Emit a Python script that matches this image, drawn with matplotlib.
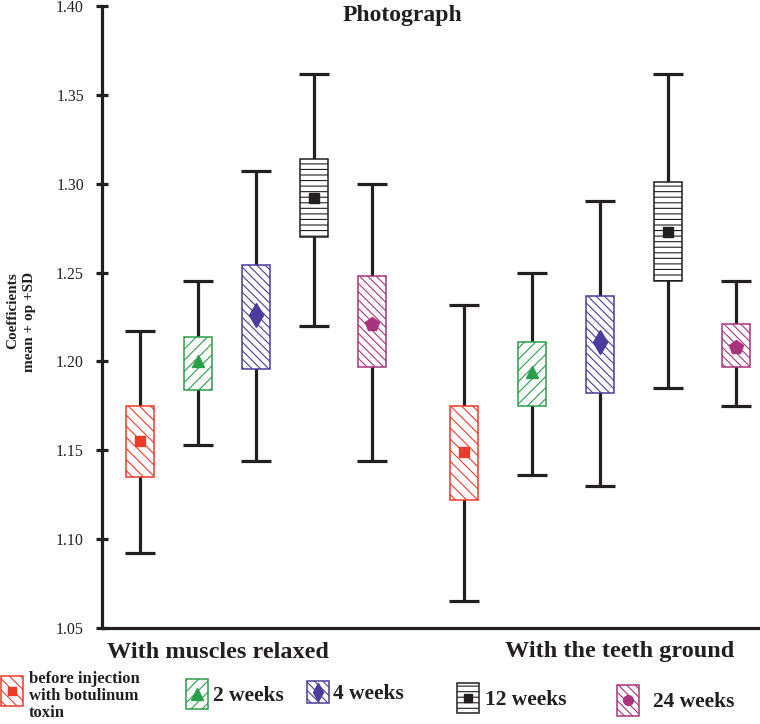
import numpy as np
import matplotlib
matplotlib.use('Agg')
import matplotlib.pyplot as plt
from matplotlib.patches import Rectangle

plt.rcParams['font.family'] = ['Liberation Serif', 'DejaVu Serif']
plt.rcParams['hatch.linewidth'] = 0.8

series = ['before injection\nwith botulinum\ntoxin', '2 weeks', '4 weeks', '12 weeks', '24 weeks']
groups = ['With muscles relaxed', 'With the teeth ground']

# per group: one value per series
mean_relaxed = [1.155, 1.200, 1.226, 1.292, 1.221]
box_lo_relaxed = [1.135, 1.184, 1.196, 1.270, 1.197]
box_hi_relaxed = [1.175, 1.214, 1.254, 1.314, 1.248]
wh_lo_relaxed = [1.092, 1.153, 1.144, 1.220, 1.144]
wh_hi_relaxed = [1.217, 1.245, 1.307, 1.362, 1.300]

mean_ground = [1.149, 1.194, 1.211, 1.273, 1.208]
box_lo_ground = [1.122, 1.175, 1.182, 1.245, 1.197]
box_hi_ground = [1.175, 1.211, 1.237, 1.301, 1.221]
wh_lo_ground = [1.065, 1.136, 1.130, 1.185, 1.175]
wh_hi_ground = [1.232, 1.250, 1.290, 1.362, 1.245]

edge_colors = ['#ee3a2a', '#2b9e4a', '#4a3d9c', '#231f20', '#a8347f']
hatches = ['\\\\\\', '///', '\\\\\\\\', '---', '\\\\\\\\']
markers = ['s', '^', 'd', 's', 'p']
msizes = [7, 9, 12, 7, 10]

# layout (x axis in pixel-like units from the y spine)
group_start = [38, 362]
group_step = [58, 68]
box_w = 28

fig = plt.figure(figsize=(7.6, 7.24), dpi=100)
ax = fig.add_axes([102 / 760, 96 / 724, 658 / 760, 622 / 724])

data = [
    (mean_relaxed, box_lo_relaxed, box_hi_relaxed, wh_lo_relaxed, wh_hi_relaxed),
    (mean_ground, box_lo_ground, box_hi_ground, wh_lo_ground, wh_hi_ground),
]

for g, (mean, blo, bhi, wlo, whi) in enumerate(data):
    pos = group_start[g] + group_step[g] * np.arange(len(series))
    mean = np.array(mean)
    ax.errorbar(pos, mean, yerr=[mean - np.array(wlo), np.array(whi) - mean],
                fmt='none', ecolor='#231f20', elinewidth=2.3, capsize=11,
                capthick=2.3, zorder=1)
    for i in range(len(series)):
        ax.bar(pos[i], bhi[i] - blo[i], bottom=blo[i], width=box_w,
               facecolor='white', edgecolor=edge_colors[i], hatch=hatches[i],
               linewidth=1.1, zorder=2)
        ax.plot(pos[i], mean[i], marker=markers[i], ms=msizes[i],
                color=edge_colors[i], mec=edge_colors[i], zorder=3)

ax.set_xlim(0, 658)
ax.set_ylim(1.05, 1.40)
ax.set_yticks(np.arange(1.05, 1.401, 0.05))
ax.set_yticklabels([f'{v:.2f}' for v in np.arange(1.05, 1.401, 0.05)])
ax.set_xticks([])
ax.tick_params(axis='y', direction='inout', length=8, width=2.3,
               labelsize=11.5, pad=9, colors='#231f20')
for s in ['top', 'right']:
    ax.spines[s].set_visible(False)
for s in ['left', 'bottom']:
    ax.spines[s].set_linewidth(2.3)
    ax.spines[s].set_color('#231f20')
ax.spines['bottom'].set_capstyle('butt')

fig.text(402 / 760, 1 - 16 / 724, 'Photograph', ha='center', va='center',
         fontsize=17, fontweight='bold', color='#231f20')
fig.text(21 / 760, 1 - 322 / 724, 'Coefficients\nmean + op +SD', rotation=90,
         ha='center', va='center', multialignment='right', fontsize=11,
         fontweight='bold', color='#231f20', linespacing=1.35)
fig.text(218 / 760, 1 - 652 / 724, groups[0], ha='center', va='center',
         fontsize=17.5, fontweight='bold', color='#231f20')
fig.text(620 / 760, 1 - 652 / 724, groups[1], ha='center', va='center',
         fontsize=17.5, fontweight='bold', color='#231f20')

# custom legend along the bottom
lax = fig.add_axes([0, 0, 1, 1], zorder=5)
lax.set_xlim(0, 760)
lax.set_ylim(724, 0)
lax.axis('off')
leg_x = [1, 186, 307, 457, 617]
leg_y = [691, 694, 692, 698, 700]
leg_h = [30, 30, 22, 30, 31]
leg_gap = [6, 5, 4, 6, 14]
leg_fs = [12, 15.5, 15.5, 15.5, 15.5]
leg_ms = [6, 8, 9, 6, 7]
leg_mk = ['s', '^', 'd', 's', 'o']
for i, lab in enumerate(series):
    lax.add_patch(Rectangle((leg_x[i], leg_y[i] - leg_h[i] / 2), 22, leg_h[i],
                            facecolor='white', edgecolor=edge_colors[i],
                            hatch=hatches[i], linewidth=1.1))
    lax.plot(leg_x[i] + 11, leg_y[i], marker=leg_mk[i], ms=leg_ms[i],
             color=edge_colors[i])
    if i == 0:
        lax.text(leg_x[i] + 22 + leg_gap[i], 671, lab, ha='left', va='top',
                 fontsize=leg_fs[i], fontweight='bold', color='#231f20',
                 linespacing=1.1)
    else:
        lax.text(leg_x[i] + 22 + leg_gap[i], leg_y[i] + 2, lab, ha='left',
                 va='center', fontsize=leg_fs[i], fontweight='bold',
                 color='#231f20')

fig.savefig('out.png', dpi=100)
